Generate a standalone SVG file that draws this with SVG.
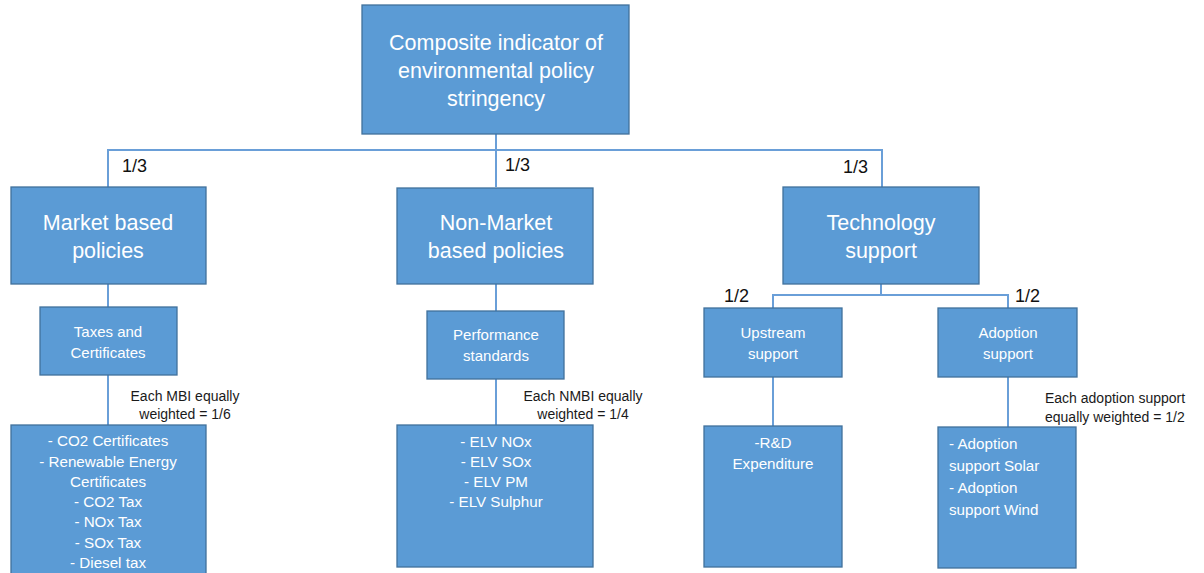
<svg xmlns="http://www.w3.org/2000/svg" width="1204" height="573" viewBox="0 0 1204 573">
<style>
.box{fill:#5b9bd5;stroke:#41719c;stroke-width:1.3}
.t{font-family:"Liberation Sans",Arial,sans-serif;fill:#ffffff;text-anchor:middle}
.tl{font-family:"Liberation Sans",Arial,sans-serif;fill:#ffffff;text-anchor:start}
.big{font-size:21.5px}
.mid{font-size:15.2px}
.sm{font-size:15px}
.lab{font-family:"Liberation Sans",Arial,sans-serif;fill:#1a1a1a;font-size:14px}
.frac{font-family:"Liberation Sans",Arial,sans-serif;fill:#111;font-size:18px}
.c{fill:none;stroke:#6a9fd8;stroke-width:2}
</style>
<rect width="1204" height="573" fill="#ffffff"/>
<g id="connectors">
<path class="c" d="M496 134 V187 M108 187 V150 H882 V187"/>
<path class="c" d="M108 284 V307 M108 375 V425"/>
<path class="c" d="M496 284 V311 M496 379 V425"/>
<path class="c" d="M881 284 V295 M773 308 V295 H1008 V308"/>
<path class="c" d="M773 377 V426 M1008 377 V427"/>
</g>
<g id="labels">
<text class="frac" x="122" y="172">1/3</text>
<text class="frac" x="505" y="171">1/3</text>
<text class="frac" x="843" y="173">1/3</text>
<text class="frac" x="724" y="302">1/2</text>
<text class="frac" x="1015" y="302">1/2</text>
<text class="lab" x="185" y="401" text-anchor="middle">Each MBI equally</text>
<text class="lab" x="185" y="419" text-anchor="middle">weighted = 1/6</text>
<text class="lab" x="583" y="401" text-anchor="middle">Each NMBI equally</text>
<text class="lab" x="583" y="419" text-anchor="middle">weighted = 1/4</text>
<text class="lab" x="1045" y="403">Each adoption support</text>
<text class="lab" x="1045" y="422">equally weighted = 1/2</text>
</g>
<g id="root">
<rect class="box" x="362" y="5" width="267" height="129"/>
<text class="t big" x="496" y="50">Composite indicator of</text>
<text class="t big" x="496" y="78">environmental policy</text>
<text class="t big" x="496" y="106">stringency</text>
</g>
<g id="market">
<rect class="box" x="11" y="187" width="195" height="97"/>
<text class="t big" x="108" y="230">Market based</text>
<text class="t big" x="108" y="258">policies</text>
</g>
<g id="nonmarket">
<rect class="box" x="397" y="188" width="196" height="96"/>
<text class="t big" x="496" y="230">Non-Market</text>
<text class="t big" x="496" y="258">based policies</text>
</g>
<g id="tech">
<rect class="box" x="783" y="187" width="196" height="97"/>
<text class="t big" x="881" y="230">Technology</text>
<text class="t big" x="881" y="258">support</text>
</g>
<g id="taxes">
<rect class="box" x="40" y="307" width="137" height="68"/>
<text class="t sm" x="108" y="337">Taxes and</text>
<text class="t sm" x="108" y="358">Certificates</text>
</g>
<g id="perf">
<rect class="box" x="427" y="311" width="137" height="68"/>
<text class="t sm" x="496" y="340">Performance</text>
<text class="t sm" x="496" y="361">standards</text>
</g>
<g id="upstream">
<rect class="box" x="704" y="308" width="138" height="69"/>
<text class="t sm" x="773" y="338">Upstream</text>
<text class="t sm" x="773" y="359">support</text>
</g>
<g id="adoption">
<rect class="box" x="938" y="308" width="139" height="69"/>
<text class="t sm" x="1008" y="338">Adoption</text>
<text class="t sm" x="1008" y="359">support</text>
</g>
<g id="mbi-list">
<rect class="box" x="11" y="425" width="195" height="160"/>
<text class="t mid" x="108" y="446">- CO2 Certificates</text>
<text class="t mid" x="108" y="467">- Renewable Energy</text>
<text class="t mid" x="108" y="487">Certificates</text>
<text class="t mid" x="108" y="507">- CO2 Tax</text>
<text class="t mid" x="108" y="527">- NOx Tax</text>
<text class="t mid" x="108" y="548">- SOx Tax</text>
<text class="t mid" x="108" y="568">- Diesel tax</text>
</g>
<g id="nmbi-list">
<rect class="box" x="397" y="425" width="196" height="142"/>
<text class="t mid" x="496" y="447">- ELV NOx</text>
<text class="t mid" x="496" y="467">- ELV SOx</text>
<text class="t mid" x="496" y="487">- ELV PM</text>
<text class="t mid" x="496" y="507">- ELV Sulphur</text>
</g>
<g id="rd-list">
<rect class="box" x="704" y="426" width="138" height="141"/>
<text class="t mid" x="773" y="448">-R&amp;D</text>
<text class="t mid" x="773" y="469">Expenditure</text>
</g>
<g id="adopt-list">
<rect class="box" x="938" y="427" width="138" height="141"/>
<text class="tl mid" x="949" y="449">- Adoption</text>
<text class="tl mid" x="949" y="471">support Solar</text>
<text class="tl mid" x="949" y="493">- Adoption</text>
<text class="tl mid" x="949" y="515">support Wind</text>
</g>
</svg>
